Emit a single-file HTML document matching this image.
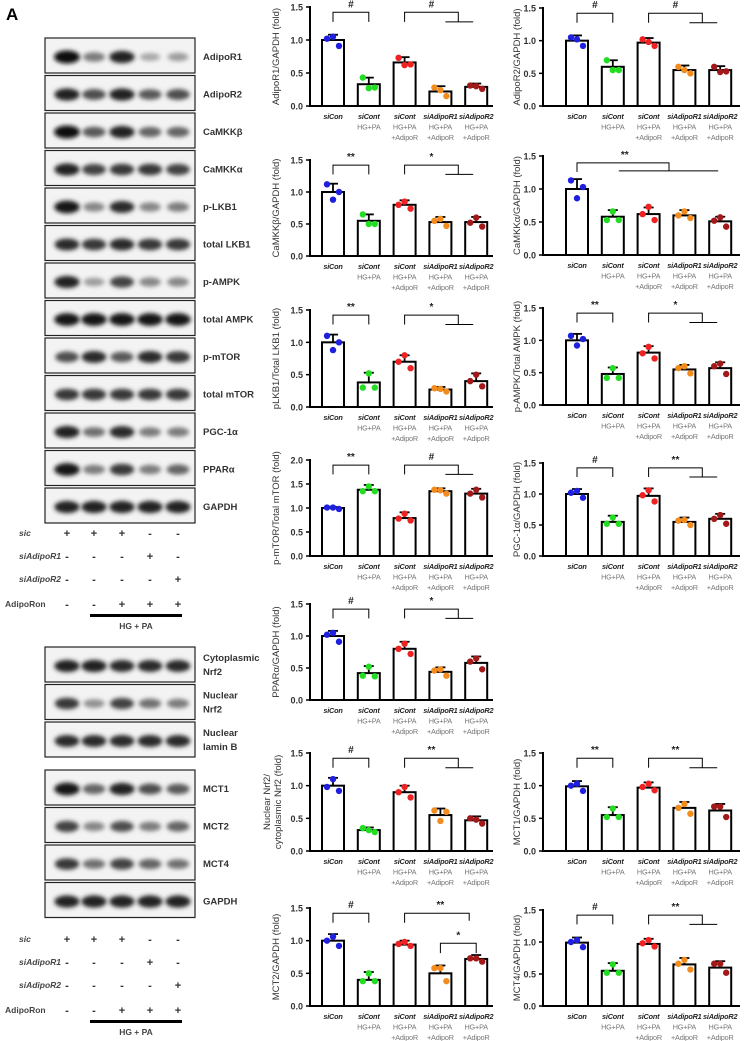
<!DOCTYPE html>
<html><head><meta charset="utf-8"><style>
html,body{margin:0;padding:0;background:#fff;}
svg{display:block;font-family:"Liberation Sans",Arial,sans-serif;}
</style></head><body>
<svg id="fig" width="748" height="1041" viewBox="0 0 748 1041" xmlns="http://www.w3.org/2000/svg">
<defs><filter id="blur" x="-30%" y="-80%" width="160%" height="260%"><feGaussianBlur stdDeviation="2.2"/></filter></defs>
<text x="6" y="20" font-size="17" font-weight="bold">A</text>
<g id="blots"></g>
<g id="charts"></g>
</svg>
<script>
// ---------- Blot data ----------
const blotNames1 = ["AdipoR1","AdipoR2","CaMKKβ","CaMKKα","p-LKB1","total LKB1","p-AMPK","total AMPK","p-mTOR","total mTOR","PGC-1α","PPARα","GAPDH"];
const blotInt1 = [[1,.5,.9,.3,.35],[.9,.7,.9,.65,.7],[1,.65,.9,.6,.6],[.9,.75,.8,.8,.75],[.95,.45,.85,.45,.5],[.85,.8,.85,.8,.8],[.9,.35,.75,.45,.45],[.95,.95,.95,.95,.95],[.7,.85,.65,.85,.8],[.8,.8,.8,.8,.8],[.9,.55,.85,.5,.5],[.95,.5,.8,.5,.6],[.9,.9,.9,.9,.9]];
const blotNames2 = [["Cytoplasmic","Nrf2"],["Nuclear","Nrf2"],["Nuclear","lamin B"]];
const blotInt2 = [[.9,.9,.85,.85,.85],[.8,.4,.75,.55,.5],[.85,.85,.85,.85,.85]];
const blotNames3 = ["MCT1","MCT2","MCT4","GAPDH"];
const blotInt3 = [[.95,.6,.9,.7,.65],[.75,.45,.7,.5,.6],[.8,.55,.75,.6,.55],[.9,.9,.9,.9,.9]];
const condNames = ["sic","siAdipoR1","siAdipoR2","AdipoRon"];
const condSigns = [["+","+","+","-","-"],["-","-","-","+","-"],["-","-","-","-","+"],["-","-","+","+","+"]];

// ---------- Chart data ----------
const catLine1 = ["siCon","siCont","siCont","siAdipoR1","siAdipoR2"];
const catLine2 = ["","HG+PA","HG+PA","HG+PA","HG+PA"];
const catLine3 = ["","","+AdipoR","+AdipoR","+AdipoR"];
const dotColors = ["#1f1fe0","#22dd22","#ee2222","#f28c1e","#a31818"];

const adipoR1Means = [1.0,0.33,0.66,0.22,0.29];
const adipoR1Errs = [0.08,0.10,0.08,0.08,0.05];
const adipoR1Dots = [[1.02,1.05,0.91],[0.43,0.27,0.28],[0.73,0.62,0.63],[0.28,0.24,0.15],[0.31,0.30,0.26]];
const adipoR2Means = [1.0,0.6,0.97,0.55,0.55];
const adipoR2Errs = [0.08,0.1,0.07,0.07,0.06];
const adipoR2Dots = [[1.05,1.02,0.92],[0.70,0.55,0.55],[1.02,0.98,0.92],[0.60,0.55,0.50],[0.60,0.52,0.53]];
const camkkbMeans = [1.0,0.55,0.8,0.53,0.53];
const camkkbErrs = [0.13,0.1,0.07,0.08,0.08];
const camkkbDots = [[1.12,0.88,1.0],[0.65,0.5,0.5],[0.8,0.85,0.74],[0.55,0.58,0.47],[0.52,0.6,0.46]];
const camkkaMeans = [1.0,0.58,0.62,0.6,0.51];
const camkkaErrs = [0.15,0.1,0.1,0.08,0.07];
const camkkaDots = [[1.13,0.86,1.03],[0.53,0.66,0.53],[0.62,0.73,0.53],[0.6,0.66,0.56],[0.52,0.57,0.43]];
const plkb1Means = [1.0,0.38,0.7,0.27,0.4];
const plkb1Errs = [0.12,0.15,0.1,0.04,0.12];
const plkb1Dots = [[1.1,0.88,1.0],[0.3,0.52,0.3],[0.7,0.8,0.6],[0.29,0.28,0.24],[0.4,0.5,0.32]];
const pampkMeans = [1.0,0.48,0.81,0.55,0.57];
const pampkErrs = [0.1,0.1,0.1,0.07,0.09];
const pampkDots = [[1.07,0.92,1.02],[0.42,0.57,0.42],[0.8,0.9,0.72],[0.57,0.6,0.49],[0.6,0.64,0.48]];
const pmtorMeans = [1.0,1.38,0.79,1.35,1.3];
const pmtorErrs = [0.02,0.1,0.12,0.06,0.1];
const pmtorDots = [[1.01,1.01,0.98],[1.35,1.45,1.35],[0.78,0.88,0.74],[1.38,1.37,1.3],[1.3,1.38,1.22]];
const pgcMeans = [1.0,0.55,0.97,0.55,0.6];
const pgcErrs = [0.08,0.1,0.12,0.07,0.08];
const pgcDots = [[1.02,1.05,0.94],[0.52,0.62,0.52],[0.98,1.06,0.88],[0.57,0.58,0.5],[0.6,0.66,0.52]];
const pparMeans = [1.0,0.42,0.8,0.44,0.58];
const pparErrs = [0.08,0.11,0.11,0.07,0.1];
const pparDots = [[1.02,1.05,0.91],[0.38,0.52,0.37],[0.8,0.88,0.72],[0.46,0.48,0.38],[0.6,0.65,0.48]];
const nrf2Means = [1.0,0.32,0.9,0.55,0.47];
const nrf2Errs = [0.12,0.04,0.1,0.1,0.06];
const nrf2Dots = [[0.98,1.1,0.92],[0.35,0.32,0.29],[0.9,0.98,0.82],[0.62,0.46,0.6],[0.5,0.48,0.42]];
const mct1Means = [0.99,0.55,0.97,0.66,0.62];
const mct1Errs = [0.08,0.12,0.08,0.09,0.1];
const mct1Dots = [[1.0,1.03,0.92],[0.52,0.65,0.52],[0.98,1.03,0.93],[0.66,0.72,0.57],[0.68,0.68,0.52]];
const mct2Means = [1.0,0.4,0.94,0.5,0.72];
const mct2Errs = [0.1,0.12,0.06,0.12,0.06];
const mct2Dots = [[1.0,1.06,0.92],[0.38,0.5,0.38],[0.95,0.98,0.92],[0.58,0.58,0.38],[0.73,0.73,0.68]];
const mct4Means = [0.99,0.55,0.97,0.65,0.6];
const mct4Errs = [0.08,0.12,0.08,0.1,0.1];
const mct4Dots = [[1.0,1.03,0.92],[0.52,0.65,0.52],[0.98,1.03,0.93],[0.66,0.72,0.57],[0.66,0.66,0.52]];

const yTicks15 = ["0.0","0.5","1.0","1.5"];
const yTicks20 = ["0.0","0.5","1.0","1.5","2.0"];

const NS="http://www.w3.org/2000/svg";
function el(tag, attrs, parent, txt){const e=document.createElementNS(NS,tag);for(const k in attrs)e.setAttribute(k,attrs[k]);if(txt!==undefined)e.textContent=txt;parent.appendChild(e);return e;}

// ---------- Blots ----------
const blotG=document.getElementById('blots');
const laneX=[67,94,122,150,178];
function blot(y, ints, label, name){
  const g=el('g',{},blotG);
  
  
  el('rect',{x:45,y:y,width:150,height:35,fill:'#f3f3f3',stroke:'#222','stroke-width':1.2},g);
  ints.forEach((v,i)=>{
    const b=el('ellipse',{cx:laneX[i],cy:y+19,rx:9+4*v,ry:3+3.5*v,fill:'rgb('+Math.round(235-225*v)+','+Math.round(235-225*v)+','+Math.round(235-225*v)+')',filter:'url(#blur)'},g);
    
    
  });
  const lines=Array.isArray(label)?label:[label];
  lines.forEach((t,k)=>{
    const tt=el('text',{x:203,y:y+(lines.length>1?14+k*14:22),'font-size':9.5,'font-weight':'bold',fill:'#333'},g,t);
    
    
  });
}
blotNames1.forEach((n,i)=>blot(38+i*37.5,blotInt1[i],n,'blot-'+i));
blotNames2.forEach((n,i)=>blot(647+i*37.5,blotInt2[i],n,'blot-nrf2-'+i));
blotNames3.forEach((n,i)=>blot(770+i*37.5,blotInt3[i],n,'blot-mct-'+i));
function condTable(y0, name){
  const g=el('g',{},blotG);
  
  
  const ys=[y0,y0+23,y0+46,y0+71];
  condNames.forEach((n,r)=>{
    el('text',{x:n==='AdipoRon'?5:19,y:ys[r]+3,'font-size':8.5,'font-style':n==='AdipoRon'?'normal':'italic','font-weight':'bold',fill:'#444'},g,n);
    condSigns[r].forEach((s,i)=>el('text',{x:laneX[i],y:ys[r]+4,'font-size':11,'font-weight':'bold','text-anchor':'middle',fill:'#333'},g,s));
  });
  el('rect',{x:90,y:y0+81,width:92,height:3,fill:'#000'},g);
  el('text',{x:136,y:y0+96,'font-size':8.5,'font-weight':'bold','text-anchor':'middle',fill:'#444'},g,'HG + PA');
}
condTable(533,'conditions-table-top');
condTable(939,'conditions-table-bottom');

// ---------- Charts ----------
const chartG=document.getElementById('charts');
function chart(opt){
  const g=el('g',{},chartG);
  
  
  const right=opt.col===1;
  const ax=right?543:310, xEnd=right?740:493, first=right?34:23, step=35.8;
  const y0=opt.y0, yT=opt.yT, ymax=opt.ticks.length===5?2.0:1.5;
  const sy=v=>y0-v/ymax*(y0-yT);
  const cx=i=>ax+first+i*step;
  const fy=f=>y0-f*(y0-yT);
  opt.ticks.forEach(t=>{
    const v=parseFloat(t);
    el('line',{x1:ax-4,x2:ax,y1:sy(v),y2:sy(v),stroke:'#000','stroke-width':1.5},g);
    const tl=el('text',{x:ax-7,y:sy(v)+3.5,'font-size':9,'font-weight':'bold','text-anchor':'end',fill:'#333'},g,t);
    
    
  });
  const tx=right?517:276, ty=(y0+yT)/2;
  const yt=el('text',{x:tx,y:ty,'font-size':9.5,'text-anchor':'middle',fill:'#333',transform:'rotate(-90 '+tx+' '+ty+')'},g);
  
  
  opt.title.forEach((t,k)=>el('tspan',{x:tx,dy:k===0?(opt.title.length>1?-6:3):11},yt,t));
  opt.means.forEach((m,i)=>{
    const r=el('rect',{x:cx(i)-11,y:sy(m),width:22,height:y0-sy(m),fill:'#fff',stroke:'#000','stroke-width':2},g);
    
    
    const e=opt.errs[i];
    el('line',{x1:cx(i),x2:cx(i),y1:sy(m),y2:sy(m+e),stroke:'#000','stroke-width':1.8},g);
    el('line',{x1:cx(i)-5,x2:cx(i)+5,y1:sy(m+e),y2:sy(m+e),stroke:'#000','stroke-width':1.8},g);
    opt.dots[i].forEach((d,k)=>{
      const c=el('circle',{cx:cx(i)-6+k*6,cy:sy(d),r:3.2,fill:dotColors[i]},g);
      
      
    });
    const lbl=[catLine1[i],catLine2[i],catLine3[i]];
    lbl.forEach((t,k)=>{ if(!t)return;
      el('text',{x:cx(i),y:y0+13+k*10.5,'font-size':7.3,'letter-spacing':-0.2,'text-anchor':'middle','font-style':k===0?'italic':'normal','font-weight':k===0?'bold':'normal',fill:k===0?'#222':'#777'},g,t);
    });
  });
  el('line',{x1:ax,x2:ax,y1:yT-1,y2:y0+1,stroke:'#000','stroke-width':2},g);
  el('line',{x1:ax-1,x2:xEnd,y1:y0,y2:y0,stroke:'#000','stroke-width':2},g);
  const s=el('g',{stroke:'#000','stroke-width':1,fill:'none'},g);
  const hi=fy(0.947), lo=fy(0.85);
  function sym(x,y,t){const st=el('text',{x:x,y:y,'font-size':10,'font-weight':'bold','text-anchor':'middle',fill:'#222',stroke:'none'},g,t);
    }
  opt.sig.forEach(sg=>{
    if(sg.type==='pair'){
      el('path',{d:`M${cx(sg.a)},${lo}V${hi}H${cx(sg.b)}V${lo}`},s); sym((cx(sg.a)+cx(sg.b))/2,hi-5,sg.t);
    } else if(sg.type==='group'){
      const mid=(cx(3)+cx(4))/2;
      el('path',{d:`M${cx(2)},${lo}V${hi}H${mid}V${lo}M${cx(3)+5},${lo}H${cx(4)-3}`},s); sym((cx(2)+mid)/2,hi-5,sg.t);
    } else if(sg.type==='span'){
      const mid=ax+126, h2=fy(0.93), l2=fy(0.85);
      el('path',{d:`M${cx(0)},${fy(0.84)}V${h2}H${mid}V${l2}M${cx(1)+6},${l2}H${cx(4)-2}`},s); sym(cx(1)+12,h2-5,sg.t);
    } else if(sg.type==='simple'){
      el('path',{d:`M${cx(2)},${lo}V${hi}H${cx(4)-7}V${fy(0.87)}`},s); sym((cx(2)+cx(4))/2,hi-5,sg.t);
    } else if(sg.type==='low'){
      const h=fy(0.64), l=fy(0.54);
      el('path',{d:`M${cx(3)},${l}V${h}H${cx(4)}V${l}`},s); sym((cx(3)+cx(4))/2,h-5,sg.t);
    }
  });
}
chart({name:'chart-adipor1',col:0,y0:106,yT:7,ticks:yTicks15,title:['AdipoR1/GAPDH (fold)'],means:adipoR1Means,errs:adipoR1Errs,dots:adipoR1Dots,sig:[{type:'pair',a:0,b:1,t:'#'},{type:'group',t:'#'}]});
chart({name:'chart-adipor2',col:1,y0:106,yT:8,ticks:yTicks15,title:['AdipoR2/GAPDH (fold)'],means:adipoR2Means,errs:adipoR2Errs,dots:adipoR2Dots,sig:[{type:'pair',a:0,b:1,t:'#'},{type:'group',t:'#'}]});
chart({name:'chart-camkkb',col:0,y0:256,yT:160,ticks:yTicks15,title:['CaMKKβ/GAPDH (fold)'],means:camkkbMeans,errs:camkkbErrs,dots:camkkbDots,sig:[{type:'pair',a:0,b:1,t:'**'},{type:'group',t:'*'}]});
chart({name:'chart-camkka',col:1,y0:255,yT:156,ticks:yTicks15,title:['CaMKKα/GAPDH (fold)'],means:camkkaMeans,errs:camkkaErrs,dots:camkkaDots,sig:[{type:'span',t:'**'}]});
chart({name:'chart-plkb1',col:0,y0:407,yT:310,ticks:yTicks15,title:['pLKB1/Total LKB1 (fold)'],means:plkb1Means,errs:plkb1Errs,dots:plkb1Dots,sig:[{type:'pair',a:0,b:1,t:'**'},{type:'group',t:'*'}]});
chart({name:'chart-pampk',col:1,y0:405,yT:308,ticks:yTicks15,title:['p-AMPK/Total AMPK (fold)'],means:pampkMeans,errs:pampkErrs,dots:pampkDots,sig:[{type:'pair',a:0,b:1,t:'**'},{type:'group',t:'*'}]});
chart({name:'chart-pmtor',col:0,y0:556,yT:460,ticks:yTicks20,title:['p-mTOR/Total mTOR (fold)'],means:pmtorMeans,errs:pmtorErrs,dots:pmtorDots,sig:[{type:'pair',a:0,b:1,t:'**'},{type:'group',t:'#'}]});
chart({name:'chart-pgc1a',col:1,y0:556,yT:463,ticks:yTicks15,title:['PGC-1α/GAPDH (fold)'],means:pgcMeans,errs:pgcErrs,dots:pgcDots,sig:[{type:'pair',a:0,b:1,t:'#'},{type:'group',t:'**'}]});
chart({name:'chart-ppara',col:0,y0:700,yT:604,ticks:yTicks15,title:['PPARα/GAPDH (fold)'],means:pparMeans,errs:pparErrs,dots:pparDots,sig:[{type:'pair',a:0,b:1,t:'#'},{type:'group',t:'*'}]});
chart({name:'chart-nrf2',col:0,y0:851,yT:753,ticks:yTicks15,title:['Nuclear Nrf2/','cytoplasmic Nrf2 (fold)'],means:nrf2Means,errs:nrf2Errs,dots:nrf2Dots,sig:[{type:'pair',a:0,b:1,t:'#'},{type:'group',t:'**'}]});
chart({name:'chart-mct1',col:1,y0:851,yT:753,ticks:yTicks15,title:['MCT1/GAPDH (fold)'],means:mct1Means,errs:mct1Errs,dots:mct1Dots,sig:[{type:'pair',a:0,b:1,t:'**'},{type:'group',t:'**'}]});
chart({name:'chart-mct2',col:0,y0:1006,yT:908,ticks:yTicks15,title:['MCT2/GAPDH (fold)'],means:mct2Means,errs:mct2Errs,dots:mct2Dots,sig:[{type:'pair',a:0,b:1,t:'#'},{type:'simple',t:'**'},{type:'low',t:'*'}]});
chart({name:'chart-mct4',col:1,y0:1006,yT:910,ticks:yTicks15,title:['MCT4/GAPDH (fold)'],means:mct4Means,errs:mct4Errs,dots:mct4Dots,sig:[{type:'pair',a:0,b:1,t:'#'},{type:'group',t:'**'}]});
</script>
</body></html>
